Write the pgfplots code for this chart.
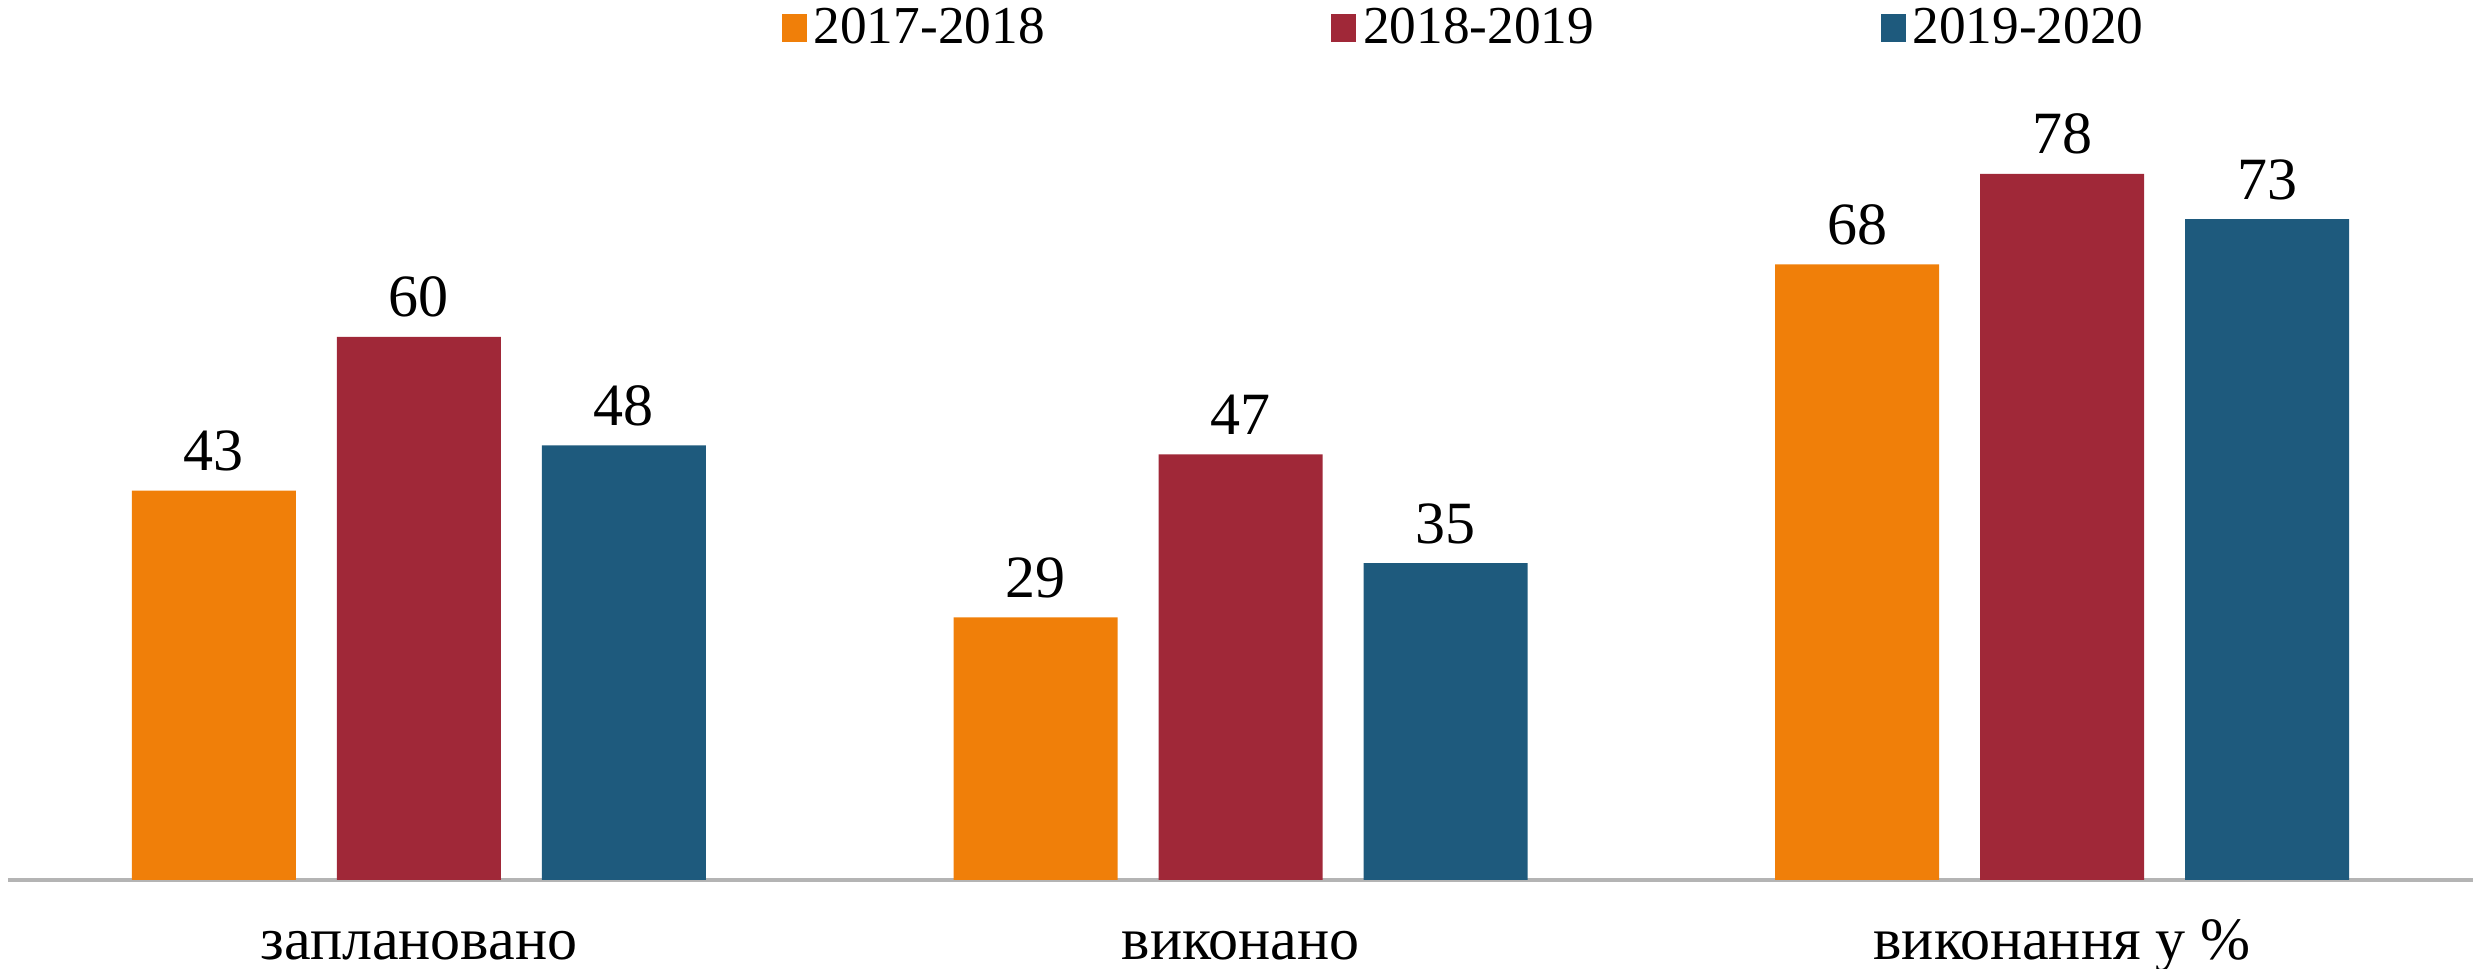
\documentclass[border=0pt]{standalone}
\usepackage{fontspec}
\setmainfont{Liberation Serif}
\usepackage{pgfplots}
\pgfplotsset{compat=1.18}
\definecolor{cOr}{RGB}{240,127,9}
\definecolor{cRd}{RGB}{160,40,56}
\definecolor{cBl}{RGB}{30,90,125}
\definecolor{cAx}{RGB}{180,180,180}
\begin{document}
\begin{tikzpicture}
\path[use as bounding box] (-2.4pt,-26.7pt) rectangle (739.5pt,264pt);
\begin{axis}[
  at={(0,0)}, anchor=south west,
  scale only axis, width=739.5pt, height=264pt,
  xmin=-0.5, xmax=2.5, ymin=0, ymax=97.2,
  axis x line=bottom, axis y line=none,
  axis line style={draw=cAx, line width=1pt, -},
  xtick={0,1,2}, xticklabels={заплановано, виконано, виконання у \%},
  xtick style={draw=none},
  xticklabel style={font=\fontsize{18}{21}\selectfont, anchor=base, yshift=-19.5pt},
  ytick=\empty,
  /pgf/number format/assume math mode=true,
  ybar, bar width=49.2pt,
  nodes near coords,
  every node near coord/.append style={font=\fontsize{18}{21}\selectfont, anchor=base, yshift=6pt, text=black},
  legend columns=3,
  legend style={draw=none, fill=none, at={(rel axis cs:0.5915,0.968)}, anchor=center,
    font=\fontsize{16}{19}\selectfont,
    /tikz/every even column/.append style={column sep=84pt}},
  legend image code/.code={\fill[#1] (0pt,-4.2pt) rectangle (7.5pt,4.2pt);},
]
\addplot[fill=cOr, draw=none, bar shift=-61.5pt] coordinates {(0,43) (1,29) (2,68)};
\addplot[fill=cRd, draw=none, bar shift=0pt] coordinates {(0,60) (1,47) (2,78)};
\addplot[fill=cBl, draw=none, bar shift=61.5pt] coordinates {(0,48) (1,35) (2,73)};
\legend{2017-2018, 2018-2019, 2019-2020}
\end{axis}
\end{tikzpicture}
\end{document}
